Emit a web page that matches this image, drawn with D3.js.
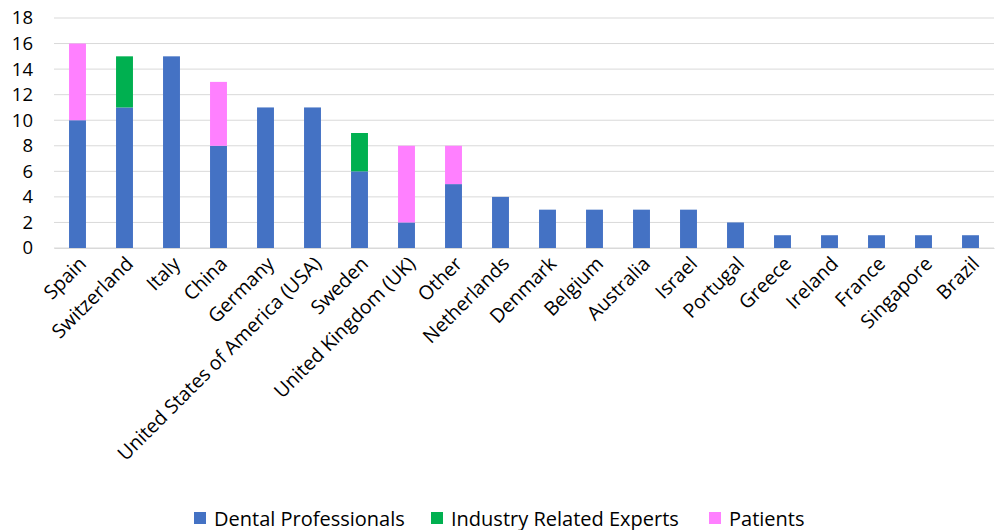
<!DOCTYPE html>
<html lang="en">
<head>
    <meta charset="UTF-8">
    <title>Participants by country</title>
    <script src="https://cdn.jsdelivr.net/npm/d3@7"></script>
    <style>
        body { margin: 0; background: #fff; }
        text { font-family: "Open Sans", sans-serif; fill: #000; }
    </style>
</head>
<body>
</body>
<script>
    // data
    const countries = ["Spain", "Switzerland", "Italy", "China", "Germany", "United States of America (USA)",
        "Sweden", "United Kingdom (UK)", "Other", "Netherlands", "Denmark", "Belgium", "Australia", "Israel",
        "Portugal", "Greece", "Ireland", "France", "Singapore", "Brazil"];
    const dental = [10, 11, 15, 8, 11, 11, 6, 2, 5, 4, 3, 3, 3, 3, 2, 1, 1, 1, 1, 1];
    const industry = [0, 4, 0, 0, 0, 0, 3, 0, 0, 0, 0, 0, 0, 0, 0, 0, 0, 0, 0, 0];
    const patients = [6, 0, 0, 5, 0, 0, 0, 6, 3, 0, 0, 0, 0, 0, 0, 0, 0, 0, 0, 0];
    const seriesNames = ["Dental Professionals", "Industry Related Experts", "Patients"];
    const yTicks = [0, 2, 4, 6, 8, 10, 12, 14, 16, 18];

    const colors = ["#4472C4", "#00B050", "#FF80FF"];
    const width = 1001, height = 530;
    const margin = { left: 54, right: 7, top: 18, bottom: 282 };
    const font = "'Open Sans', sans-serif";

    const rows = countries.map((c, i) => ({ country: c, d: dental[i], i: industry[i], p: patients[i] }));
    const stacked = d3.stack().keys(["d", "i", "p"])(rows);

    const svg = d3.select("body").append("svg")
        .attr("width", width)
        .attr("height", height);

    const x = d3.scaleBand()
        .domain(countries)
        .range([margin.left, width - margin.right])
        .paddingInner(0.64)
        .paddingOuter(0.32);

    const y = d3.scaleLinear()
        .domain([0, 18])
        .range([height - margin.bottom, margin.top]);

    // gridlines
    svg.append("g")
        .selectAll("line")
        .data(yTicks)
        .join("line")
        .attr("x1", margin.left)
        .attr("x2", width - margin.right)
        .attr("y1", d => y(d))
        .attr("y2", d => y(d))
        .attr("stroke", "#d9d9d9")
        .attr("stroke-width", 1);

    // y axis labels
    const yAxis = svg.append("g")
        .attr("transform", `translate(${margin.left},0)`)
        .call(d3.axisLeft(y).tickValues(yTicks).tickSize(0).tickPadding(21));
    yAxis.select(".domain").remove();
    yAxis.selectAll("text").style("font-size", "18.5px").style("font-family", font);

    // bars
    svg.append("g")
        .selectAll("g")
        .data(stacked)
        .join("g")
        .attr("fill", (d, k) => colors[k])
        .selectAll("rect")
        .data(d => d.filter(s => s[1] > s[0]))
        .join("rect")
        .attr("x", s => x(s.data.country))
        .attr("width", x.bandwidth())
        .attr("y", s => y(s[1]))
        .attr("height", s => y(s[0]) - y(s[1]));

    // x axis
    const xAxis = svg.append("g")
        .attr("transform", `translate(0,${y(0)})`)
        .call(d3.axisBottom(x).tickSize(0).tickPadding(0));
    xAxis.select(".domain").attr("stroke", "#d9d9d9");
    xAxis.selectAll("text")
        .style("font-size", "19.5px")
        .style("font-family", font)
        .attr("text-anchor", "end")
        .attr("dy", null)
        .attr("y", 0)
        .attr("transform", "translate(10,17) rotate(-45)");

    // legend
    const legendX = [194, 431, 709];
    const legend = svg.append("g")
        .selectAll("g")
        .data(seriesNames)
        .join("g")
        .attr("transform", (d, k) => `translate(${legendX[k]},518)`);
    legend.append("rect")
        .attr("x", 0).attr("y", -6)
        .attr("width", 12).attr("height", 12)
        .attr("fill", (d, k) => colors[k]);
    legend.append("text")
        .attr("x", 20).attr("y", 7.5)
        .style("font-size", "20px")
        .text(d => d);
</script>
</html>
